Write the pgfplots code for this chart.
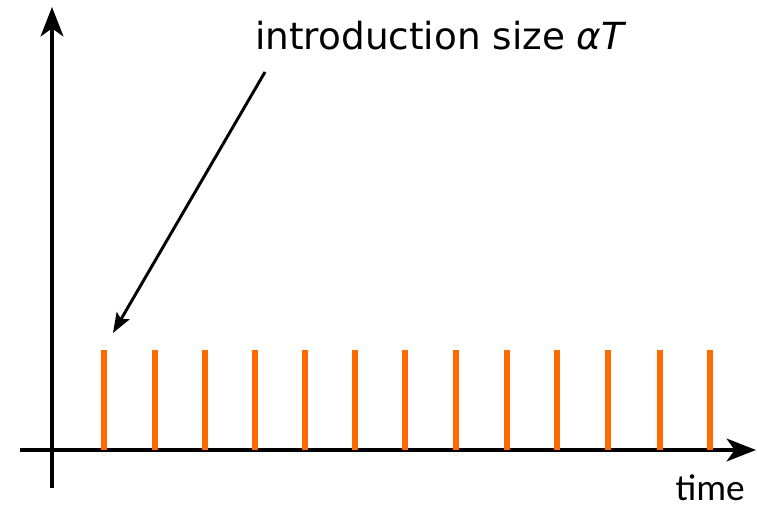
\documentclass[border=0pt]{standalone}
\usepackage{fontspec}
\setmainfont{DejaVu Sans}
\newfontfamily\carlito{Carlito}
\usepackage{pgfplots}
\pgfplotsset{compat=1.18}
\usetikzlibrary{arrows.meta}
\definecolor{barorange}{HTML}{FF6A00}
\begin{document}
\begin{tikzpicture}
\begin{axis}[
  x=0.75pt, y=0.75pt,
  xmin=-52, xmax=705, ymin=-54, ymax=450,
  scale only axis, hide axis, clip=false,
]
\coordinate (bl) at (axis cs:-52,-54);
\coordinate (tr) at (axis cs:705,450);
% axes
\addplot[black, line width=3pt, -{Stealth[length=22pt,width=17pt,inset=6pt]}] coordinates {(-32,0) (704,0)};
\addplot[black, line width=3pt, -{Stealth[length=22pt,width=17pt,inset=6pt]}] coordinates {(0,-38) (0,443)};
% introductions
\addplot[ycomb, barorange, line width=4.5pt, mark=none] coordinates {
(52,100) (103,100) (153,100) (203,100) (253,100) (303,100) (353,100)
(404,100) (455,100) (505,100) (556,100) (608,100) (658,100)};
% annotation arrow
\addplot[black, line width=2.2pt, -{Stealth[length=15pt,width=11pt,inset=3pt]}] coordinates {(213,378) (61,117)};
\node[anchor=base west, font=\fontsize{28}{30}\selectfont, inner sep=0pt] at (axis cs:203,400) {introduction size \textit{αT}};
\node[anchor=base east, font=\carlito\fontsize{28}{30}\selectfont, inner sep=0pt] at (axis cs:693,-50) {time};
\end{axis}
\pgfresetboundingbox
\path (bl) rectangle (tr);
\end{tikzpicture}
\end{document}
